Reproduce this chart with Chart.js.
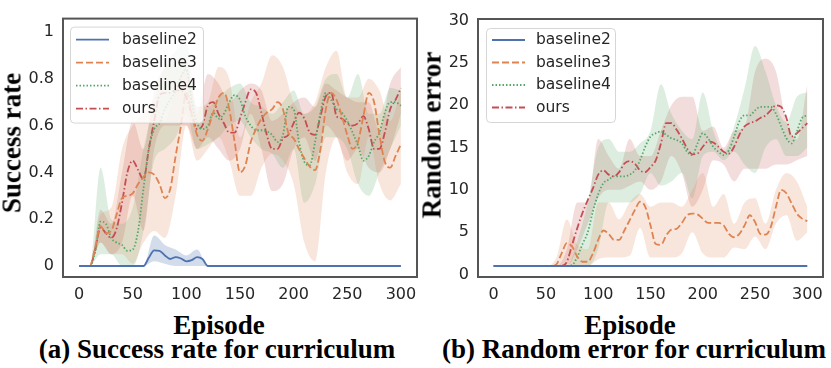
<!DOCTYPE html>
<html>
<head>
<meta charset="utf-8">
<script src="https://cdn.jsdelivr.net/npm/chart.js@4.4.1/dist/chart.umd.min.js"></script>
<style>
  html, body { margin: 0; padding: 0; background: #fff; }
  #wrap { position: relative; width: 831px; height: 368px; overflow: hidden; background: #fff; }
  canvas { position: absolute; top: 0; }
  .t { position: absolute; font-family: 'Liberation Serif', 'Times New Roman', serif; font-weight: bold;
       font-size: 27px; line-height: 27px; color: #000; white-space: nowrap; }
  .h { transform: translateX(-50%); }
  .v { transform: translate(-50%, -50%) rotate(-90deg); }
</style>
</head>
<body>
<div id="wrap">
  <canvas id="c1" width="425" height="310" style="left:0px"></canvas>
  <canvas id="c2" width="406" height="310" style="left:425px"></canvas>
  <div class="t v" style="left:12px; top:143px;">Success rate</div>
  <div class="t v" style="left:432px; top:135px;">Random error</div>
  <div class="t h" style="left:219px; top:312px;">Episode</div>
  <div class="t h" style="left:630px; top:312px;">Episode</div>
  <div class="t h" style="left:217px; top:336px;">(a) Success rate for curriculum</div>
  <div class="t h" style="left:634px; top:336px;">(b) Random error for curriculum</div>
</div>
<script>
// ---------------- data ----------------
const seriesNames = ['baseline2', 'baseline3', 'baseline4', 'ours'];
const episodes = [0,5,10,15,20,25,30,35,40,45,50,55,60,65,70,75,80,85,90,95,100,105,110,115,120,125,130,135,140,145,150,155,160,165,170,175,180,185,190,195,200,205,210,215,220,225,230,235,240,245,250,255,260,265,270,275,280,285,290,295,300];
const bandEpisodes = [0,10,20,30,40,50,60,70,80,90,100,110,120,130,140,150,160,170,180,190,200,210,220,230,240,250,260,270,280,290,300];
const xTickValues = [0, 50, 100, 150, 200, 250, 300];

// (a) success rate
const srTickValues = [0, 0.2, 0.4, 0.6, 0.8, 1];
const srTickLabels = ['0', '0.2', '0.4', '0.6', '0.8', '1'];
const srBaseline2 = [0,0,0,0,0,0,0,0,0,0,0,0,0,0.035,0.067,0.065,0.045,0.03,0.038,0.032,0.02,0.025,0.038,0.03,0,0,0,0,0,0,0,0,0,0,0,0,0,0,0,0,0,0,0,0,0,0,0,0,0,0,0,0,0,0,0,0,0,0,0,0,0];
const srBaseline3 = [0,0,0,0.08,0.17,0.14,0.15,0.22,0.29,0.3,0.31,0.35,0.38,0.4,0.39,0.35,0.29,0.33,0.47,0.6,0.74,0.65,0.56,0.535,0.585,0.655,0.72,0.74,0.67,0.53,0.4,0.43,0.53,0.585,0.63,0.655,0.67,0.7,0.67,0.57,0.545,0.5,0.46,0.425,0.41,0.5,0.67,0.74,0.71,0.64,0.56,0.5,0.53,0.64,0.74,0.7,0.56,0.445,0.42,0.47,0.52];
const srBaseline4 = [0,0,0,0.06,0.19,0.18,0.12,0.1,0.09,0.065,0.07,0.15,0.33,0.5,0.585,0.61,0.67,0.71,0.75,0.81,0.84,0.7,0.61,0.585,0.6,0.655,0.63,0.65,0.7,0.73,0.71,0.64,0.6,0.58,0.58,0.575,0.56,0.53,0.56,0.68,0.67,0.53,0.445,0.43,0.53,0.655,0.74,0.71,0.67,0.655,0.62,0.57,0.515,0.45,0.47,0.53,0.57,0.655,0.7,0.7,0.685];
const srOurs = [0,0,0,0.07,0.165,0.14,0.12,0.16,0.27,0.4,0.45,0.41,0.37,0.5,0.62,0.73,0.74,0.74,0.75,0.75,0.72,0.65,0.585,0.6,0.685,0.7,0.65,0.61,0.57,0.57,0.63,0.7,0.755,0.74,0.655,0.56,0.5,0.5,0.545,0.56,0.61,0.655,0.63,0.57,0.56,0.64,0.725,0.74,0.64,0.63,0.61,0.6,0.61,0.64,0.585,0.5,0.5,0.57,0.67,0.71,0.76];
const srBaseline2Lo = [0,0,0,0,0,0,0,0.02,0.01,0,0,0,0,0,0,0,0,0,0,0,0,0,0,0,0,0,0,0,0,0,0];
const srBaseline2Hi = [0,0,0,0,0,0,0,0.13,0.09,0.07,0.045,0.07,0,0,0,0,0,0,0,0,0,0,0,0,0,0,0,0,0,0,0];
const srBaseline3Lo = [0,0,0.1,0.05,0.05,0.01,0.1,0.15,0.12,0.3,0.6,0.45,0.5,0.55,0.45,0.3,0.3,0.42,0.48,0.45,0.35,0.1,0.02,0.4,0.55,0.4,0.35,0.55,0.35,0.28,0.35];
const srBaseline3Hi = [0,0,0.22,0.25,0.5,0.6,0.65,0.7,0.62,0.75,0.85,0.68,0.7,0.85,0.8,0.55,0.7,0.78,0.9,0.85,0.7,0.65,0.7,0.85,0.92,0.72,0.72,0.8,0.75,0.62,0.75];
const srBaseline4Lo = [0,0,0.05,0.05,0,0,0.15,0.45,0.5,0.55,0.65,0.5,0.52,0.55,0.6,0.62,0.55,0.5,0.48,0.42,0.5,0.27,0.35,0.55,0.55,0.5,0.35,0.3,0.4,0.5,0.6];
const srBaseline4Hi = [0,0,0.42,0.2,0.18,0.25,0.5,0.7,0.85,0.92,0.95,0.68,0.68,0.72,0.76,0.78,0.7,0.68,0.65,0.7,0.75,0.65,0.68,0.8,0.82,0.72,0.82,0.65,0.65,0.76,0.75];
const srOursLo = [0,0,0.1,0.05,0.1,0.3,0.15,0.5,0.6,0.6,0.6,0.5,0.55,0.5,0.45,0.5,0.65,0.5,0.32,0.35,0.5,0.55,0.45,0.6,0.55,0.45,0.5,0.42,0.4,0.5,0.65];
const srOursHi = [0,0,0.24,0.18,0.4,0.62,0.5,0.75,0.85,0.88,0.88,0.65,0.82,0.78,0.7,0.75,0.78,0.75,0.62,0.65,0.7,0.72,0.68,0.78,0.75,0.72,0.7,0.7,0.58,0.78,0.85];

// (b) random error
const reTickValues = [0, 5, 10, 15, 20, 25, 30];
const reTickLabels = ['0', '5', '10', '15', '20', '25', '30'];
const reBaseline2 = [1,1,1,1,1,1,1,1,1,1,1,1,1,1,1,1,1,1,1,1,1,1,1,1,1,1,1,1,1,1,1,1,1,1,1,1,1,1,1,1,1,1,1,1,1,1,1,1,1,1,1,1,1,1,1,1,1,1,1,1,1];
const reBaseline3 = [1,1,1,1,1,1,1,1,1,1,1,1,1.2,2.5,3.7,3.3,2.1,1.5,1.5,2.5,4.1,5.2,4.8,4.1,4.1,5.2,6.4,7.6,8.6,8.0,5.8,3.6,3.5,4.6,5.3,5.4,6.1,7.0,7.2,7.1,6.6,6.1,6.1,6.1,5.8,4.8,4.4,4.8,5.8,7.0,6.2,4.8,4.7,5.6,8.0,10.0,9.6,8.4,7.2,6.6,6.3];
const reBaseline4 = [1,1,1,1,1,1,1,1,1,1,1,1,1,1,1,1.1,2.1,3.6,5.0,7.5,9.5,10.8,11.2,11.6,11.6,11.6,11.8,12.3,13.5,15.1,16.3,16.7,16.9,16.5,16.1,15.9,15.5,14.5,14.1,15.5,16.7,16.1,15.1,14.5,14.1,14.7,16.3,18.1,18.8,18.8,19.4,19.8,19.8,19.8,19.0,17.5,16.1,15.5,16.9,18.5,18.8];
const reOurs = [1,1,1,1,1,1,1,1,1,1,1,1,1,1,1.5,3.5,5.5,7.3,8.8,10.2,11.8,12.3,11.8,11.6,12.1,13.1,13.4,13.1,12.3,12.1,12.7,13.5,15.5,17.9,17.9,17.1,16.1,14.9,14.2,14.3,15.1,15.7,15.6,15.1,14.5,14.3,15.1,16.5,17.5,17.9,18.1,18.5,18.8,19.4,20.0,19.8,18.5,16.3,16.7,17.3,17.9];
const reBaseline2Lo = [1,1,1,1,1,1,1,1,1,1,1,1,1,1,1,1,1,1,1,1,1,1,1,1,1,1,1,1,1,1,1];
const reBaseline2Hi = [1,1,1,1,1,1,1,1,1,1,1,1,1,1,1,1,1,1,1,1,1,1,1,1,1,1,1,1,1,1,1];
const reBaseline3Lo = [1,1,1,1,1,1,1,1.2,1,1,1.8,2,2,2.2,5.5,2,2,2,2.5,5,2.5,2,2,3.2,3,4.5,3,6,7,4,5];
const reBaseline3Hi = [1,1,1,1,1,1,2,6.5,3.5,3,8.5,8.5,6.5,8.5,9.5,8,8.5,8.5,8,10,12,8,9.5,6,8.5,9,6,10,12,11,8];
const reBaseline4Lo = [1,1,1,1,1,1,1,1,1,1,3,8.5,8.5,8.5,9.5,12,10.5,11,12,9,14,14.5,13.5,14.5,13,12,15,16,14,14,15];
const reBaseline4Hi = [1,1,1,1,1,1,1,1,4,8.5,15,16,14.5,14.5,15.5,17,22.5,19,17,16,21.5,17,14.5,17.5,22,27,24,20,18,21,21.5];
const reOursLo = [1,1,1,1,1,1,1,1,3,6,9,10,10,10.5,11,10,11,14,12,8,10,13.5,13,11,12.5,12.5,12.5,13,13,13.5,14];
const reOursHi = [1,1,1,1,1,1,1,3,8.5,8.5,16,14,12.5,16,14,14,17,20,21,21,17,17.5,15,17,17.5,24,25.5,24,18,16,22.5];

// ---------------- styling ----------------
const colors = ['#4c72b0', '#dd8452', '#55a868', '#c44e52'];
const bandAlpha = [0.25, 0.2, 0.2, 0.2];
const dashes = [[], [7, 3], [1.5, 2], [7, 2.5, 1.5, 2.5]];
const tickFont = { family: "'DejaVu Sans', sans-serif", size: 16 };
const tickColor = '#262626';

function rgba(hex, a) {
  const n = parseInt(hex.slice(1), 16);
  return `rgba(${(n >> 16) & 255},${(n >> 8) & 255},${n & 255},${a})`;
}
function pts(xs, ys) { return xs.map((x, i) => ({ x: x, y: ys[i] })); }

function buildDatasets(means, bands) {
  const ds = [];
  means.forEach((m, i) => {
    ds.push({
      label: seriesNames[i], data: pts(episodes, m), borderColor: colors[i], borderWidth: 1.8,
      borderDash: dashes[i], pointRadius: 0, fill: false, cubicInterpolationMode: 'monotone',
      order: 0, legendEntry: true
    });
  });
  bands.forEach((b, i) => {
    ds.push({
      label: seriesNames[i] + ' lo', data: pts(bandEpisodes, b[0]), borderColor: 'transparent', borderWidth: 0,
      pointRadius: 0, fill: false, cubicInterpolationMode: 'monotone', order: 1
    });
    ds.push({
      label: seriesNames[i] + ' hi', data: pts(bandEpisodes, b[1]), borderColor: 'transparent', borderWidth: 0,
      pointRadius: 0, fill: '-1', backgroundColor: rgba(colors[i], bandAlpha[i]),
      cubicInterpolationMode: 'monotone', order: 1
    });
  });
  return ds;
}

const framePlugin = {
  id: 'frame',
  afterDraw(chart) {
    const a = chart.chartArea, ctx = chart.ctx;
    ctx.save();
    ctx.strokeStyle = '#555';
    ctx.lineWidth = 2;
    ctx.strokeRect(a.left, a.top, a.right - a.left, a.bottom - a.top);
    ctx.restore();
  }
};

const legendPlugin = {
  id: 'boxLegend',
  afterDatasetsDraw(chart, args, opts) {
    const a = chart.chartArea, ctx = chart.ctx;
    const bx = a.left + opts.dx, by = a.top + opts.dy;
    ctx.save();
    ctx.beginPath();
    ctx.roundRect(bx + 0.5, by + 0.5, opts.w, opts.h, 4);
    ctx.fillStyle = 'rgba(255,255,255,0.8)';
    ctx.fill();
    ctx.strokeStyle = 'rgba(204,204,204,0.8)';
    ctx.lineWidth = 1;
    ctx.stroke();
    const entries = chart.data.datasets.filter(d => d.legendEntry);
    ctx.font = "15.5px 'DejaVu Sans', sans-serif";
    ctx.textBaseline = 'middle';
    ctx.textAlign = 'left';
    entries.forEach((d, i) => {
      const y = by + opts.first + i * opts.row;
      ctx.beginPath();
      ctx.setLineDash(d.borderDash || []);
      ctx.strokeStyle = d.borderColor;
      ctx.lineWidth = 1.8;
      ctx.moveTo(bx + 6, y);
      ctx.lineTo(bx + 39, y);
      ctx.stroke();
      ctx.setLineDash([]);
      ctx.fillStyle = tickColor;
      ctx.fillText(d.label, bx + opts.tx, y);
    });
    ctx.restore();
  }
};

function makeChart(id, datasets, yMin, yMax, yTicks, yLabels, pad, yWidth, legendOpts) {
  return new Chart(document.getElementById(id), {
    type: 'line',
    data: { datasets: datasets },
    plugins: [legendPlugin, framePlugin],
    options: {
      responsive: false, animation: false, devicePixelRatio: 1,
      layout: { padding: pad },
      plugins: { legend: { display: false }, tooltip: { enabled: false }, boxLegend: legendOpts },
      elements: { point: { radius: 0 } },
      scales: {
        x: {
          type: 'linear', min: -15, max: 315,
          grid: { display: false, drawTicks: false }, border: { display: false },
          ticks: { font: tickFont, color: tickColor, padding: 8, maxRotation: 0,
                   callback: (v) => String(v) },
          afterBuildTicks: (s) => { s.ticks = xTickValues.map(v => ({ value: v })); },
          afterFit: (s) => { s.height = 33; }
        },
        y: {
          type: 'linear', min: yMin, max: yMax,
          grid: { display: false, drawTicks: false }, border: { display: false },
          ticks: { font: tickFont, color: tickColor, padding: 9,
                   callback: (v, i) => yLabels[i] },
          afterBuildTicks: (s) => { s.ticks = yTicks.map(v => ({ value: v })); },
          afterFit: (s) => { s.width = yWidth; }
        }
      }
    }
  });
}

makeChart('c1',
  buildDatasets([srBaseline2, srBaseline3, srBaseline4, srOurs],
    [[srBaseline2Lo, srBaseline2Hi], [srBaseline3Lo, srBaseline3Hi], [srBaseline4Lo, srBaseline4Hi], [srOursLo, srOursHi]]),
  -0.047, 1.057, srTickValues, srTickLabels,
  { top: 15, right: 8, left: 0, bottom: 0 }, 63,
  { dx: 7, dy: 8, w: 133, h: 96, first: 13, row: 23, tx: 52 });

makeChart('c2',
  buildDatasets([reBaseline2, reBaseline3, reBaseline4, reOurs],
    [[reBaseline2Lo, reBaseline2Hi], [reBaseline3Lo, reBaseline3Hi], [reBaseline4Lo, reBaseline4Hi], [reOursLo, reOursHi]]),
  -0.3, 30.2, reTickValues, reTickLabels,
  { top: 19, right: 8, left: 0, bottom: 0 }, 53,
  { dx: 8, dy: 9, w: 129, h: 94, first: 12, row: 22.5, tx: 50 });
</script>
</body>
</html>
